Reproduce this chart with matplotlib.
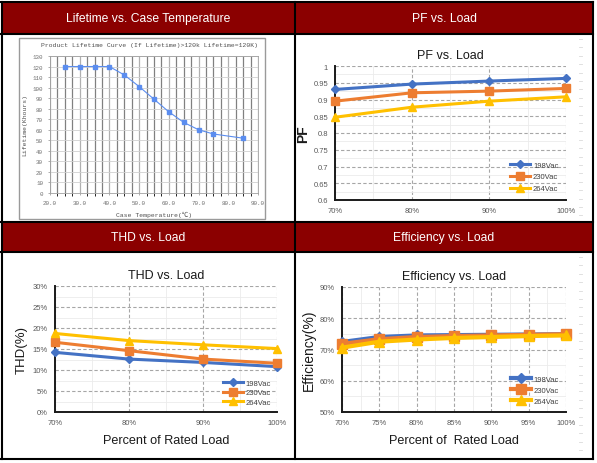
import matplotlib
matplotlib.use("Agg")
import numpy as np
import matplotlib.pyplot as plt
from matplotlib.patches import Rectangle
from matplotlib.ticker import MultipleLocator

plt.rcParams['font.family'] = ['Liberation Sans', 'DejaVu Sans']

# lifetime curve
temp_c = [25, 30, 35, 40, 45, 50, 55, 60, 65, 70, 75, 85]
lifetime_kh = [120, 120, 120, 120, 112, 101, 89, 77, 67, 60, 56, 52]

# PF / THD vs load
load_4 = [70, 80, 90, 100]
pf_198 = [0.930, 0.946, 0.955, 0.963]
pf_230 = [0.895, 0.920, 0.925, 0.933]
pf_264 = [0.847, 0.877, 0.895, 0.908]
thd_198 = [14.2, 12.6, 11.8, 10.8]
thd_230 = [16.6, 14.6, 12.6, 11.6]
thd_264 = [18.7, 17.0, 16.0, 15.1]

# efficiency vs load
load_7 = [70, 75, 80, 85, 90, 95, 100]
eff_198 = [72.4, 74.0, 74.5, 74.6, 74.7, 74.8, 74.9]
eff_230 = [71.8, 73.3, 74.0, 74.3, 74.5, 74.7, 74.9]
eff_264 = [70.6, 72.5, 73.2, 73.7, 74.0, 74.3, 74.5]

vac_labels = ['198Vac', '230Vac', '264Vac']
colors = ['#4472C4', '#ED7D31', '#FFC000']
markers = ['D', 's', '^']

W, H = 597, 464
fig = plt.figure(figsize=(W / 100, H / 100), dpi=100)
fig.patch.set_facecolor('white')

HEAD = '#8B0000'


def rect(x0, y0, x1, y1, **kw):
    fig.patches.append(Rectangle((x0 / W, 1 - y1 / H), (x1 - x0) / W, (y1 - y0) / H,
                                 transform=fig.transFigure, figure=fig, zorder=-5, **kw))


def px_axes(x0, y0, x1, y1):
    return fig.add_axes([x0 / W, 1 - y1 / H, (x1 - x0) / W, (y1 - y0) / H])


def hline(y, x0, x1, lw=1.5, color='black'):
    fig.add_artist(plt.Line2D([x0 / W, x1 / W], [1 - y / H, 1 - y / H], color=color, lw=lw))


def vline(x, y0, y1, lw=1.5):
    fig.add_artist(plt.Line2D([x / W, x / W], [1 - y0 / H, 1 - y1 / H], color='black', lw=lw))


# table frame and header bars
rect(1, 3, 593, 35, facecolor=HEAD, edgecolor='none')
rect(1, 223, 593, 253, facecolor=HEAD, edgecolor='none')
for y in (3, 35, 223, 253, 460):
    hline(y, 1, 593)
for x in (1.5, 295, 592.5):
    vline(x, 3, 460)

# faint leftover tick marks at the right edge of the right-hand cells
for y in np.arange(40, 218, 8.4):
    hline(y, 579, 582, lw=0.6, color='#DADADA')
for y in np.arange(258, 455, 8.4):
    hline(y, 579, 582, lw=0.6, color='#DADADA')

head_font = dict(color='white', fontsize=8.7, ha='center', va='center')
fig.text(148 / W, 1 - 19 / H, 'Lifetime vs. Case Temperature', **head_font)
fig.text(444 / W, 1 - 19 / H, 'PF vs. Load', **head_font)
fig.text(148 / W, 1 - 238 / H, 'THD vs. Load', **head_font)
fig.text(444 / W, 1 - 238 / H, 'Efficiency vs. Load', **head_font)

# ---- lifetime picture ----
rect(19, 39, 265, 220, facecolor='white', edgecolor='#9A9A9A', lw=1)
ax = px_axes(50, 57, 258, 194)
mono = ['Liberation Mono', 'Noto Sans CJK SC', 'DejaVu Sans Mono']
ax.plot(temp_c, lifetime_kh, color='#5B8DEF', lw=0.8, marker='s', ms=2.2, zorder=3)
ax.set_xlim(20, 90)
ax.set_ylim(0, 130)
ax.xaxis.set_major_locator(MultipleLocator(10))
ax.yaxis.set_major_locator(MultipleLocator(10))
ax.xaxis.set_minor_locator(MultipleLocator(2.5))
ax.set_xticklabels([f'{v:.1f}' for v in ax.get_xticks()], family=mono)
ax.grid(which='major', axis='y', color='#D0D0D0', lw=0.6)
ax.grid(which='minor', axis='x', color='#808080', lw=0.9)
ax.grid(which='major', axis='x', color='#B0B0B0', lw=0.9)
ax.tick_params(labelsize=4.2, colors='#707070', length=1.5, width=0.4)
for lab in ax.get_yticklabels():
    lab.set_family(mono)
for s in ax.spines.values():
    s.set_color('#A0A0A0')
    s.set_linewidth(0.6)
ax.set_title('Product Lifetime Curve (If Lifetime)>120k Lifetime=120K)', fontsize=4.6,
             family=mono, color='#505050', loc='right', pad=7)
ax.set_xlabel('Case Temperature(℃)', fontsize=4.6, family=mono, color='#505050', labelpad=4)
ax.set_ylabel('Lifetime(Khours)', fontsize=4.6, family=mono, color='#505050', labelpad=4)


def load_chart(box, xs, series, ylim, ystep, yfmt, title, ylabel, ylabel_kw, xlabel=None,
               xstep=10, ms_list=(4, 6, 5.5), lw=2.2, leg_kw=None):
    ax = px_axes(*box)
    for ys, c, m, lab, ms in zip(series, colors, markers, vac_labels, ms_list):
        ax.plot(xs, ys, color=c, marker=m, ms=ms, lw=lw, label=lab, zorder=3, clip_on=False)
    ax.set_xlim(xs[0], xs[-1])
    ax.set_ylim(*ylim)
    ax.xaxis.set_major_locator(MultipleLocator(xstep))
    ax.xaxis.set_minor_locator(MultipleLocator(xstep / 2))
    ax.yaxis.set_major_locator(MultipleLocator(ystep))
    ax.yaxis.set_minor_locator(MultipleLocator(ystep / 2))
    ax.set_xticklabels([f'{v:.0f}%' for v in ax.get_xticks()])
    ax.set_yticklabels([yfmt(v) for v in ax.get_yticks()])
    ax.grid(which='minor', color='#EBEBEB', lw=0.6, ls='-')
    ax.grid(which='major', color='#A6A6A6', lw=0.8, ls=(0, (3, 2)))
    ax.set_axisbelow(True)
    ax.tick_params(which='both', length=0, labelsize=5.5, labelcolor='#595959', pad=5)
    ax.spines['top'].set_visible(False)
    ax.spines['right'].set_visible(False)
    for s in ('left', 'bottom'):
        ax.spines[s].set_linewidth(1.4)
        ax.spines[s].set_color('#1A1A1A')
    ax.set_title(title, fontsize=9, color='#1A1A1A', pad=6)
    ax.set_ylabel(ylabel, **ylabel_kw)
    if xlabel:
        ax.set_xlabel(xlabel, fontsize=9.1, color='#1A1A1A', labelpad=6)
    kw = dict(loc='lower right', frameon=False, fontsize=5.5, handlelength=2.6,
              handletextpad=0.35, labelspacing=0.6, borderaxespad=0.6)
    if leg_kw:
        kw.update(leg_kw)
    leg = ax.legend(**kw)
    for t in leg.get_texts():
        t.set_color('#404040')
    return ax


load_chart((335, 67, 566, 201), load_4, [pf_198, pf_230, pf_264], (0.6, 1.0), 0.05,
           lambda v: f'{v:g}', 'PF vs. Load', 'PF',
           dict(fontsize=10, fontweight='bold', color='#1A1A1A', labelpad=2))

load_chart((55, 287, 277, 413), load_4, [thd_198, thd_230, thd_264], (0, 30), 5,
           lambda v: f'{v:.0f}%', 'THD vs. Load', 'THD(%)',
           dict(fontsize=9.5, color='#1A1A1A', labelpad=4), xlabel='Percent of Rated Load',
           leg_kw=dict(labelspacing=0.3, borderaxespad=0.4))

load_chart((342, 288, 566, 413), load_7, [eff_198, eff_230, eff_264], (50, 90), 10,
           lambda v: f'{v:.0f}%', 'Efficiency vs. Load', 'Efficiency(%)',
           dict(fontsize=10, color='#1A1A1A', labelpad=3), xlabel='Percent of  Rated Load',
           xstep=5, ms_list=(5, 7, 7), lw=3, leg_kw=dict(labelspacing=0.5, borderaxespad=0.5))

fig.savefig('out.png', dpi=100)
